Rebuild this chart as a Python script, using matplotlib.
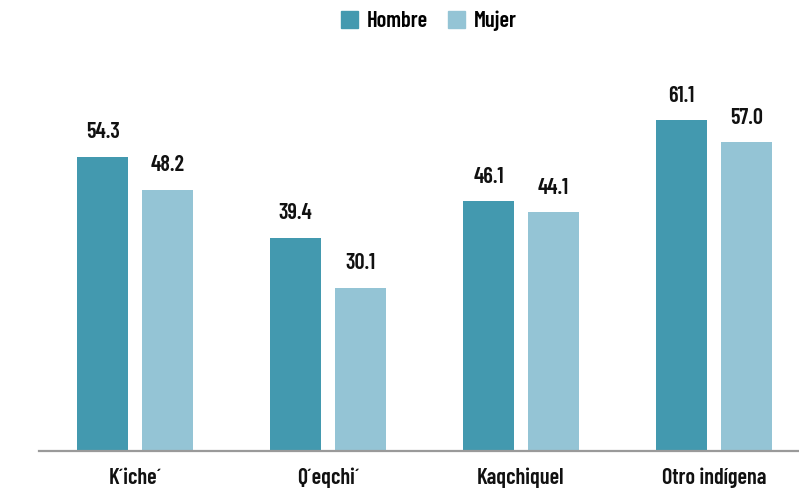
import matplotlib
matplotlib.use("Agg")
import matplotlib.pyplot as plt
import numpy as np
from matplotlib.patches import Patch

categories = ["K´iche´", "Q´eqchi´", "Kaqchiquel", "Otro indígena"]
hombre = [54.3, 39.4, 46.1, 61.1]
mujer = [48.2, 30.1, 44.1, 57.0]
series_names = ["Hombre", "Mujer"]
colors = ["#4399AF", "#94C4D5"]

plt.rcParams['font.family'] = ['Barlow Condensed', 'Roboto Condensed', 'IBM Plex Sans Condensed', 'DejaVu Sans']
FW = 600
FS = 16
TXT = "#111111"

fig = plt.figure(figsize=(7.99, 4.90), dpi=100)
left = 38.5 / 799
width = (810.5 - 38.5) / 799
bottom = (490 - 451) / 490
ymax = 70
top_px = 451 - ymax * 5.414
height = (451 - top_px) / 490
ax = fig.add_axes([left, bottom, width, height])

x = np.arange(len(categories))
bw = 0.264
off = 0.168
b1 = ax.bar(x - off, hombre, bw, color=colors[0], label=series_names[0])
b2 = ax.bar(x + off, mujer, bw, color=colors[1], label=series_names[1])

for bars, vals in ((b1, hombre), (b2, mujer)):
    for r, v in zip(bars, vals):
        ax.annotate(f"{v:.1f}", (r.get_x() + r.get_width() / 2, v),
                    xytext=(0, 10.5), textcoords="offset points",
                    ha="center", va="bottom", fontsize=FS, fontweight=FW,
                    color=TXT)

ax.set_xlim(-0.5, len(categories) - 0.5)
ax.set_ylim(0, ymax)
ax.set_xticks(x)
ax.set_xticklabels(categories, fontsize=FS, fontweight=FW, color=TXT)
ax.tick_params(axis='x', length=0, pad=12)
ax.set_yticks([])
for s in ("top", "right", "left"):
    ax.spines[s].set_visible(False)
ax.spines["bottom"].set_color("#9a9a9a")
ax.spines["bottom"].set_linewidth(1.6)

handles = [Patch(color=colors[0], label=series_names[0]),
           Patch(color=colors[1], label=series_names[1])]
fig.legend(handles=handles, loc="center", bbox_to_anchor=(429 / 799, 1 - 21 / 490),
           ncol=2, frameon=False, handlelength=0.75, handleheight=0.75,
           handletextpad=0.4, columnspacing=0.9, prop={"weight": FW, "size": FS})

fig.savefig("out.png", dpi=100)
